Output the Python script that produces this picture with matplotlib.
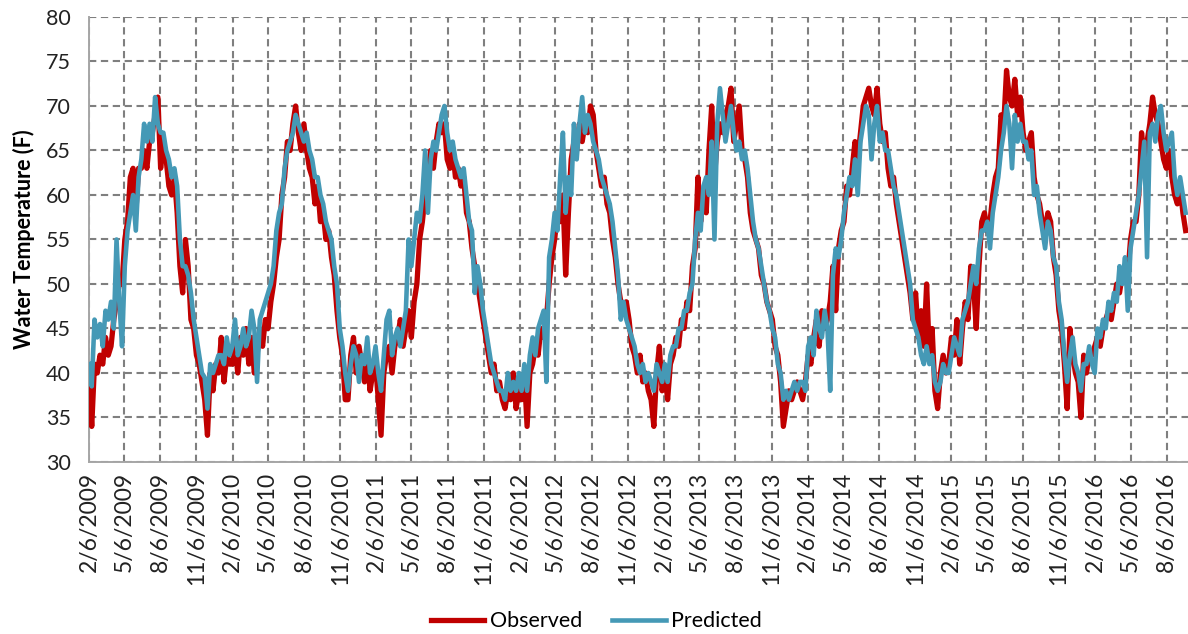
import matplotlib
matplotlib.use('Agg')
import matplotlib.pyplot as plt
import pandas as pd

plt.rcParams['font.family'] = ['Lato', 'DejaVu Sans']

# Weekly readings, one list per season starting early February
obs_2009 = [39, 34, 41, 40, 42, 41, 44, 42, 43, 46, 48, 50, 50, 55, 57, 62, 63,
            58, 63, 63, 65, 63, 66, 67, 69, 71, 63, 66, 64, 61, 60, 62, 58, 52,
            49, 55, 52, 46, 45, 42, 41, 39, 37, 33, 40, 38, 41, 40, 44, 39, 42, 41]
pred_2009 = [41, 38.5, 46, 44, 45.5, 43, 47, 46, 48, 45, 55, 48, 43, 52, 56, 58, 60,
             56, 62, 64, 68, 66, 68, 66, 71, 68, 67, 67, 65, 64, 62, 63, 61, 55,
             52, 52, 51, 49, 46, 44, 42, 40, 39.5, 36, 41, 40, 41, 42, 42, 41, 44, 42]

obs_2010 = [41, 43, 40, 44, 42, 45, 41, 44, 40, 42, 45, 43, 46, 45, 48, 50, 53,
            55, 60, 62, 66, 65, 68, 70, 67, 65, 68, 65, 63, 62, 59, 61, 57, 58,
            55, 56, 53, 51, 47, 44, 42, 37, 37, 42, 44, 40, 43, 41, 39, 42, 38, 40]
pred_2010 = [43, 46, 42, 43, 45, 43, 44, 47, 45, 39, 46, 47, 48, 49, 50, 52, 56,
             58, 59, 63, 65, 66, 67, 69, 68, 67, 66, 67, 65, 64, 62, 62, 60, 59,
             57, 56, 55, 52, 50, 45, 43, 40, 38, 41, 43, 42, 39, 42, 41, 44, 40, 41]

obs_2011 = [41, 37, 33, 40, 42, 43, 40, 43, 44, 46, 43, 45, 47, 44, 48, 50, 55,
            57, 60, 62, 65, 63, 66, 68, 67, 68, 64, 63, 65, 62, 63, 61, 62, 58,
            57, 54, 52, 50, 48, 46, 44, 42, 40, 41, 38, 39, 37, 36, 38, 37, 40, 36]
pred_2011 = [43, 40, 38, 42, 46, 47, 42, 44, 45, 43, 45, 47, 55, 52, 55, 58, 57,
             60, 65, 58, 64, 66, 65, 67, 69, 70, 67, 65, 66, 64, 63, 62, 63, 60,
             57, 56, 49, 52, 50, 47, 45, 43, 41, 40, 39, 38, 38, 37, 40, 38, 39, 38]

obs_2012 = [38, 37, 40, 34, 40, 41, 43, 42, 45, 44, 46, 50, 53, 55, 58, 57, 60,
            51, 58, 64, 66, 65, 68, 66, 68, 67, 70, 69, 65, 63, 61, 62, 59, 58,
            55, 53, 50, 48, 47, 48, 46, 43, 42, 40, 42, 39, 40, 38, 37, 34, 40, 43]
pred_2012 = [40, 38, 41, 38, 42, 44, 42, 45, 46, 47, 39, 53, 55, 58, 56, 62, 67,
             58, 62, 60, 68, 64, 68, 71, 67, 69, 68, 66, 65, 64, 62, 61, 60, 59,
             57, 54, 51, 46, 48, 46, 45, 44, 43, 41, 40, 41, 39, 40, 39, 38, 41, 40]

obs_2013 = [38, 40, 37, 41, 42, 44, 43, 46, 45, 48, 47, 52, 54, 62, 57, 60, 58,
            65, 70, 62, 66, 68, 67, 69, 70, 72, 66, 68, 70, 65, 64, 62, 58, 56,
            55, 54, 51, 50, 48, 47, 46, 43, 42, 39, 34, 36, 38, 37, 38, 39, 38, 37]
pred_2013 = [39, 41, 39, 42, 43, 43, 45, 45, 47, 47, 49, 50, 55, 58, 56, 61, 62,
             60, 66, 55, 68, 72, 69, 66, 68, 70, 67, 65, 66, 64, 65, 63, 60, 57,
             55, 54, 52, 50, 48, 47, 45, 44, 41, 40, 37, 38, 37, 38, 39, 38, 39, 39]

obs_2014 = [39, 42, 41, 44, 46, 43, 47, 45, 46, 48, 52, 47, 54, 56, 57, 61, 60,
            63, 66, 64, 67, 70, 71, 72, 70, 69, 72, 68, 66, 67, 63, 61, 62, 59,
            57, 55, 53, 51, 49, 46, 49, 44, 47, 43, 50, 42, 45, 38, 36, 40, 42, 40]
pred_2014 = [38, 43, 44, 42, 47, 45, 44, 47, 45, 38, 51, 54, 53, 55, 58, 60, 62,
             61, 64, 60, 66, 68, 70, 69, 64, 68, 70, 66, 67, 65, 65, 63, 61, 60,
             58, 56, 54, 52, 50, 46, 45, 44, 42, 41, 43, 41, 42, 39, 38, 39, 41, 40]

obs_2015 = [41, 44, 42, 46, 41, 45, 48, 46, 52, 50, 45, 52, 57, 58, 56, 57, 60,
            62, 63, 69, 68, 74, 71, 70, 73, 69, 71, 67, 65, 66, 67, 62, 60, 59,
            57, 56, 58, 57, 53, 51, 47, 45, 41, 36, 45, 42, 40, 39, 35, 42, 40, 42]
pred_2015 = [40, 42, 44, 43, 42, 46, 47, 48, 50, 52, 50, 54, 56, 56, 57, 54, 58,
             60, 62, 65, 67, 70, 68, 63, 69, 66, 68, 66, 66, 64, 65, 60, 61, 58,
             56, 54, 57, 56, 53, 52, 48, 46, 42, 39, 42, 44, 41, 40, 38, 41, 41, 43]

obs_2016 = [42, 43, 44, 43, 45, 46, 47, 46, 48, 50, 49, 51, 52, 51, 55, 57, 57,
            60, 67, 64, 66, 68, 71, 69, 68, 66, 64, 63, 65, 62, 60, 59, 61, 58, 56]
pred_2016 = [41, 40, 45, 44, 46, 45, 48, 47, 49, 48, 52, 50, 53, 47, 54, 56, 58,
             60, 63, 66, 53, 67, 68, 66, 69, 70, 67, 65, 66, 67, 62, 60, 62, 60, 58]

observed = (obs_2009 + obs_2010 + obs_2011 + obs_2012 + obs_2013 + obs_2014
            + obs_2015 + obs_2016)
predicted = (pred_2009 + pred_2010 + pred_2011 + pred_2012 + pred_2013 + pred_2014
             + pred_2015 + pred_2016)
dates = pd.date_range('2009-02-06', periods=len(observed), freq='7D')

# quarterly ticks on the 6th: Feb, May, Aug, Nov
tick_dates = pd.date_range('2009-02-01', '2016-08-01', freq='3MS') + pd.Timedelta(days=5)
tick_labels = [f"{d.month}/{d.day}/{d.year}" for d in tick_dates]

fig = plt.figure(figsize=(11.88, 6.34), dpi=100)
ax = fig.add_axes([0.0749, 0.2713, 0.9251, 0.7019])

ax.plot(dates, observed, color='#C00000', lw=3.8, label='Observed',
        solid_joinstyle='round', zorder=3)
ax.plot(dates, predicted, color='#4599B6', lw=3.3, label='Predicted',
        solid_joinstyle='round', zorder=4)

ax.set_xlim(pd.Timestamp('2009-02-06'), pd.Timestamp('2016-09-29'))
ax.set_ylim(30, 80)
ax.set_yticks(range(30, 81, 5))
ax.set_xticks(tick_dates)
ax.set_xticklabels(tick_labels, rotation=90, fontsize=16.5, color='#222222')
ax.tick_params(axis='y', labelsize=15.5, labelcolor='#222222', length=0, pad=13)
ax.tick_params(axis='x', length=0, pad=7)

ax.grid(True, color='#7F7F7F', lw=1.5, linestyle=(0, (3.5, 2.2)))
ax.set_axisbelow(True)
for side in ['top', 'right']:
    ax.spines[side].set_visible(False)
for side in ['left', 'bottom']:
    ax.spines[side].set_color('#A6A6A6')
    ax.spines[side].set_linewidth(1.4)

ax.set_ylabel('Water Temperature (F)', fontsize=15.5, fontweight='bold', labelpad=8)

fig.legend(loc='center', bbox_to_anchor=(0.502, 0.02), ncol=2, frameon=False,
           fontsize=15.5, handlelength=2.5, handletextpad=0.25, columnspacing=1.4)

fig.savefig('out.png', dpi=100)
